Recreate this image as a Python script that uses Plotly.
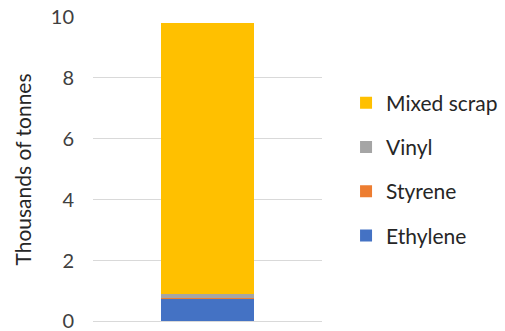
import plotly.graph_objects as go

categories = [""]
series_names = ["Ethylene", "Styrene", "Vinyl", "Mixed scrap"]
series_values = [[0.75], [0.005], [0.155], [8.88]]
series_colors = ["#4472C4", "#ED7D31", "#A5A5A5", "#FFC000"]
y_ticks = [0, 2, 4, 6, 8, 10]

FONT = "Lato, Carlito, Calibri, sans-serif"

fig = go.Figure()
n = len(series_names)
for i, (name, vals, col) in enumerate(zip(series_names, series_values, series_colors)):
    fig.add_trace(go.Bar(x=categories, y=vals, name=name, marker=dict(color=col, line=dict(width=0)),
                         legendgroup=name, legendrank=n - i))

fig.update_layout(
    width=505, height=331,
    barmode="stack", bargap=0.596,
    plot_bgcolor="white", paper_bgcolor="white",
    margin=dict(l=93, r=183, t=17, b=9, autoexpand=False),
    font=dict(family=FONT, size=20, color="#404040"),
    showlegend=True,
    legend=dict(traceorder="grouped", tracegroupgap=14, x=1.105, xanchor="left",
                y=0.5, yanchor="middle", font=dict(size=21, color="#262626"),
                bgcolor="rgba(0,0,0,0)"),
    xaxis=dict(showticklabels=False, showgrid=False, zeroline=False, showline=False, ticks=""),
    yaxis=dict(range=[-0.02, 10], tickvals=y_ticks, showgrid=True, gridcolor="#D9D9D9", gridwidth=1,
               zeroline=True, zerolinecolor="#D9D9D9", zerolinewidth=1, automargin=False,
               showline=False, ticks="", ticklabelstandoff=18, ticklabeloverflow="allow",
               tickfont=dict(size=20, color="#404040"),
               title=dict(text="Thousands of tonnes", font=dict(size=21, color="#262626"), standoff=13)),
)

fig.write_html("out.html")
